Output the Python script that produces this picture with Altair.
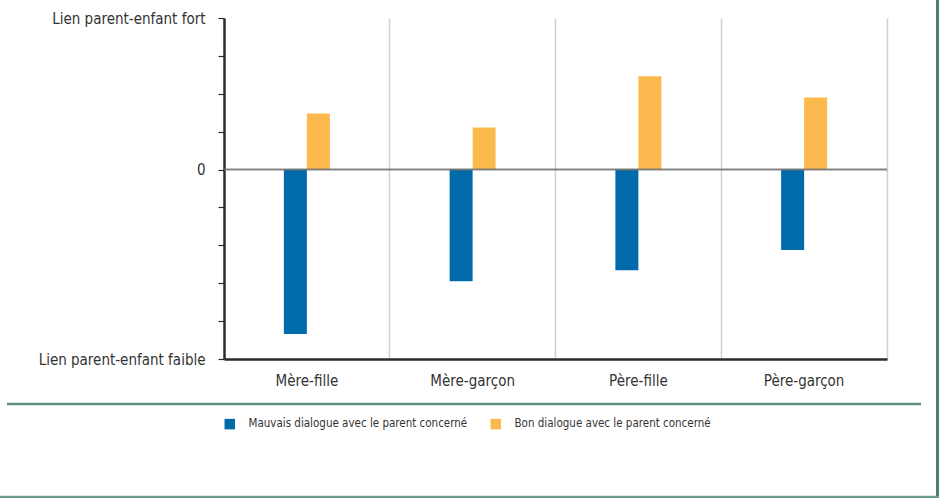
import altair as alt
import pandas as pd

# Relationship strength by parent/child pair, split by quality of dialogue
categories = ["Mère-fille", "Mère-garçon", "Père-fille", "Père-garçon"]
mauvais = [-4.34, -2.95, -2.66, -2.12]
bon = [1.48, 1.11, 2.46, 1.90]
series = ["Mauvais dialogue avec le parent concerné", "Bon dialogue avec le parent concerné"]
colors = ["#006BAA", "#FBB84C"]
y_ticks = [-5, -4, -3, -2, -1, 0, 1, 2, 3, 4]

rows = []
for c, m, b in zip(categories, mauvais, bon):
    rows.append({"pair": c, "serie": series[0], "value": m})
    rows.append({"pair": c, "serie": series[1], "value": b})
df = pd.DataFrame(rows)

FONT = "Liberation Sans Narrow, DejaVu Sans Condensed, Arial Narrow, sans-serif"
TEXT = "#333333"
FRAME = "#4E7D73"

W, H = 663, 341
BAR_W = 23

y_enc = alt.Y(
    "value:Q",
    scale=alt.Scale(domain=[-5, 4], nice=False, zero=False),
    axis=alt.Axis(
        title=None,
        values=y_ticks,
        tickCount=10,
        labelExpr="datum.value == 4 ? 'Lien parent-enfant fort' : datum.value == 0 ? '0' : datum.value == -5 ? 'Lien parent-enfant faible' : ''",
        labelOverlap=False,
        labelBound=False,
        labelFlush=False,
        labelFont=FONT,
        labelFontSize=15,
        labelColor=TEXT,
        labelPadding=13,
        tickSize=6,
        tickColor="#2b2b2b",
        tickWidth=1.2,
        domainColor="#2b2b2b",
        domainWidth=2.5,
        grid=False,
    ),
)

base = alt.Chart(df).encode(
    x=alt.X(
        "pair:N",
        sort=categories,
        scale=alt.Scale(paddingInner=0, paddingOuter=0),
        axis=alt.Axis(
            title=None,
            labelAngle=0,
            labelFont=FONT,
            labelFontSize=15,
            labelColor=TEXT,
            labelPadding=14,
            ticks=False,
            domain=True,
            domainColor="#2b2b2b",
            domainWidth=2.5,
            grid=True,
            gridColor="#cfcfcf",
            gridWidth=1.5,
            bandPosition=1,
        ),
    ),
    y=y_enc,
    color=alt.Color(
        "serie:N",
        sort=series,
        scale=alt.Scale(domain=series, range=colors),
        legend=alt.Legend(
            title=None,
            orient="none",
            direction="horizontal",
            legendX=0,
            legendY=400,
            symbolType="square",
            symbolSize=110,
            symbolStrokeWidth=0,
            symbolOpacity=1,
            labelFont=FONT,
            labelFontSize=11.5,
            labelColor=TEXT,
            labelOffset=13,
            columnPadding=22,
            labelLimit=400,
        ),
    ),
)

# Bad dialogue to the left of each category centre, good dialogue to the right
bars_bad = base.transform_filter(alt.datum.serie == series[0]).mark_bar(
    width=BAR_W, xOffset=-BAR_W / 2, clip=False
)
bars_good = base.transform_filter(alt.datum.serie == series[1]).mark_bar(
    width=BAR_W, xOffset=BAR_W / 2, clip=False
)

zero_line = alt.Chart(pd.DataFrame({"value": [0]})).mark_rule(
    color="#6f6f6f", strokeWidth=2, opacity=0.85
).encode(y=y_enc)

# Frame: separator above the legend, right border and bottom border
separator = alt.Chart(pd.DataFrame({"v": [0]})).mark_rule(
    color="#5E8F83", strokeWidth=2.5, clip=False
).encode(x=alt.value(-217), x2=alt.value(697), y=alt.value(386))

right_border = alt.Chart(pd.DataFrame({"v": [0]})).mark_rule(
    color=FRAME, strokeWidth=3, clip=False
).encode(x=alt.value(713.5), y=alt.value(-18), y2=alt.value(480))

bottom_border = alt.Chart(pd.DataFrame({"v": [0]})).mark_rule(
    color="#6C9A8F", strokeWidth=2.5, clip=False
).encode(x=alt.value(-224), x2=alt.value(715), y=alt.value(479))

chart = (
    alt.layer(bars_bad, bars_good, zero_line, separator, right_border, bottom_border)
    .properties(
        width=W,
        height=H,
        autosize=alt.AutoSizeParams(type="none"),
        padding={"left": 224, "top": 18, "right": 52, "bottom": 139},
        background="white",
    )
    .configure_view(stroke=None)
)

chart.save("out.html", embed_options={"renderer": "svg", "actions": False})
